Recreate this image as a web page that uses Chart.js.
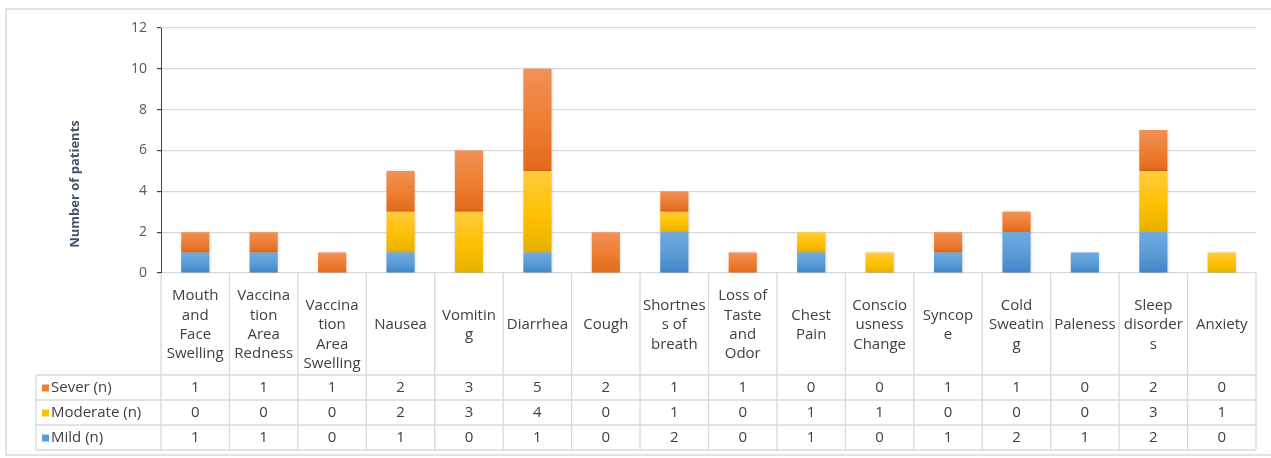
<!DOCTYPE html>
<html>
<head>
<meta charset="utf-8">
<script src="https://cdn.jsdelivr.net/npm/chart.js@4"></script>
<style>
  html, body { margin: 0; padding: 0; background: #ffffff; }
  #wrap { width: 1271px; height: 458px; position: relative; }
</style>
</head>
<body>
<div id="wrap"><canvas id="chart" width="1271" height="458"></canvas></div>
<script>
// Symptom categories (each entry is the wrapped header text of its table column)
const categories = [
  ['Mouth', 'and', 'Face', 'Swelling'],
  ['Vaccina', 'tion', 'Area', 'Redness'],
  ['', 'Vaccina', 'tion', 'Area', 'Swelling'],
  ['Nausea'],
  ['Vomitin', 'g'],
  ['Diarrhea'],
  ['Cough'],
  ['Shortnes', 's of', 'breath'],
  ['Loss of', 'Taste', 'and', 'Odor'],
  ['Chest', 'Pain'],
  ['Conscio', 'usness', 'Change'],
  ['Syncop', 'e'],
  ['Cold', 'Sweatin', 'g'],
  ['Paleness'],
  ['Sleep', 'disorder', 's'],
  ['Anxiety']
];

// Number of patients per severity grade
const severe   = [1, 1, 1, 2, 3, 5, 2, 1, 1, 0, 0, 1, 1, 0, 2, 0];
const moderate = [0, 0, 0, 2, 3, 4, 0, 1, 0, 1, 1, 0, 0, 0, 3, 1];
const mild     = [1, 1, 0, 1, 0, 1, 0, 2, 0, 1, 0, 1, 2, 1, 2, 0];

const seriesNames = ['Sever (n)', 'Moderate (n)', 'Mild (n)'];
const yAxisTitle = 'Number of patients';

const FONT = '"Open Sans", "DejaVu Sans", sans-serif';

// Gradient stops (top, middle, bottom) for each series
const palette = {
  mild:     { base: '#5B9BD5', top: '#6EAAE2', bottom: '#3F85C7' },
  moderate: { base: '#FFC000', top: '#FFCB3F', bottom: '#E4B100' },
  severe:   { base: '#ED7D31', top: '#F29158', bottom: '#E2691A' }
};

// Stack order from bottom to top
const stackOrder = [mild, moderate, severe];

function segmentFill(key, level) {
  return function (ctx) {
    const chart = ctx.chart;
    const y = chart.scales && chart.scales.y;
    const p = palette[key];
    if (!chart.chartArea || !y || ctx.dataIndex === undefined) return p.base;
    const i = ctx.dataIndex;
    let start = 0;
    for (let k = 0; k < level; k++) start += stackOrder[k][i];
    const end = start + stackOrder[level][i];
    const yTop = y.getPixelForValue(end);
    const yBot = y.getPixelForValue(start);
    if (!isFinite(yTop) || !isFinite(yBot) || yTop === yBot) return p.base;
    const g = chart.ctx.createLinearGradient(0, yTop, 0, yBot);
    g.addColorStop(0, p.top);
    g.addColorStop(0.55, p.base);
    g.addColorStop(1, p.bottom);
    return g;
  };
}

// Soft shadow around the bars
const barShadow = {
  id: 'barShadow',
  beforeDatasetsDraw(chart) {
    const c = chart.ctx;
    c.save();
    c.shadowColor = 'rgba(0,0,0,0.28)';
    c.shadowBlur = 3;
    c.shadowOffsetX = 0.5;
    c.shadowOffsetY = 0.5;
  },
  afterDatasetsDraw(chart) {
    chart.ctx.restore();
  }
};

// Frame, axis title and the data table under the plot
const dataTable = {
  id: 'dataTable',
  afterDraw(chart) {
    const c = chart.ctx;
    const area = chart.chartArea;
    const n = categories.length;
    const colW = (area.right - area.left) / n;
    const headerTop = area.bottom;
    const headerBottom = headerTop + 102;
    const rowH = 25;
    const tableLeft = 36;
    const tableBottom = headerBottom + rowH * 3;

    c.save();

    // outer frame
    c.strokeStyle = '#d9d9d9';
    c.lineWidth = 1.5;
    c.strokeRect(6, 9, 1300, 446);

    // axis title
    c.save();
    c.translate(75, 184);
    c.rotate(-Math.PI / 2);
    c.fillStyle = '#44546A';
    c.font = 'bold 13px ' + FONT;
    c.textAlign = 'center';
    c.textBaseline = 'middle';
    c.fillText(yAxisTitle, 0, 0);
    c.restore();

    // grid of the table
    c.strokeStyle = '#d9d9d9';
    c.lineWidth = 1.3;
    c.beginPath();
    // horizontal rules
    c.moveTo(tableLeft, headerBottom); c.lineTo(area.right, headerBottom);
    for (let r = 1; r <= 3; r++) {
      const yy = headerBottom + r * rowH;
      c.moveTo(tableLeft, yy); c.lineTo(area.right, yy);
    }
    // vertical rules
    for (let i = 0; i <= n; i++) {
      const xx = area.left + i * colW;
      c.moveTo(xx, headerTop); c.lineTo(xx, tableBottom);
    }
    c.moveTo(tableLeft, headerBottom); c.lineTo(tableLeft, tableBottom);
    c.stroke();

    // header text
    c.fillStyle = '#404040';
    c.font = '15px ' + FONT;
    c.textAlign = 'center';
    c.textBaseline = 'middle';
    const lineH = 19.4;
    const headerMid = (headerTop + headerBottom) / 2 + 1;
    const xs = chart.scales.x;
    categories.forEach((lines, i) => {
      const cx = xs.getPixelForValue(i);
      const y0 = headerMid - (lines.length - 1) * lineH / 2;
      lines.forEach((t, j) => c.fillText(t, cx, y0 + j * lineH));
    });

    // value rows
    const rows = [
      { name: seriesNames[0], color: palette.severe.base, values: severe },
      { name: seriesNames[1], color: palette.moderate.base, values: moderate },
      { name: seriesNames[2], color: palette.mild.base, values: mild }
    ];
    rows.forEach((row, r) => {
      const cy = headerBottom + r * rowH + rowH / 2 + 0.5;
      c.fillStyle = row.color;
      c.fillRect(42, cy - 3.5, 7, 7);
      c.fillStyle = '#404040';
      c.textAlign = 'left';
      c.fillText(row.name, 51, cy);
      c.textAlign = 'center';
      row.values.forEach((v, i) => c.fillText(String(v), xs.getPixelForValue(i), cy));
    });

    c.restore();
  }
};

new Chart(document.getElementById('chart'), {
  type: 'bar',
  data: {
    labels: categories.map(l => l.filter(Boolean).join(' ')),
    datasets: [
      { label: seriesNames[2], data: mild, backgroundColor: segmentFill('mild', 0) },
      { label: seriesNames[1], data: moderate, backgroundColor: segmentFill('moderate', 1) },
      { label: seriesNames[0], data: severe, backgroundColor: segmentFill('severe', 2) }
    ]
  },
  options: {
    responsive: false,
    animation: false,
    devicePixelRatio: 1,
    layout: { padding: { left: 0, top: 28, right: 15, bottom: 185 } },
    datasets: { bar: { categoryPercentage: 1, barPercentage: 0.41, borderWidth: 0 } },
    plugins: { legend: { display: false }, tooltip: { enabled: false } },
    scales: {
      x: { stacked: true, display: false },
      y: {
        stacked: true,
        min: 0,
        max: 12,
        afterFit(scale) { scale.width = 161; },
        ticks: {
          stepSize: 2,
          padding: 10,
          color: '#595959',
          font: { family: FONT, size: 14 }
        },
        grid: { color: '#d9d9d9', lineWidth: 1.2, tickLength: 4, tickColor: '#404040' },
        border: { display: true, color: '#404040', width: 1 }
      }
    }
  },
  plugins: [barShadow, dataTable]
});
</script>
</body>
</html>
